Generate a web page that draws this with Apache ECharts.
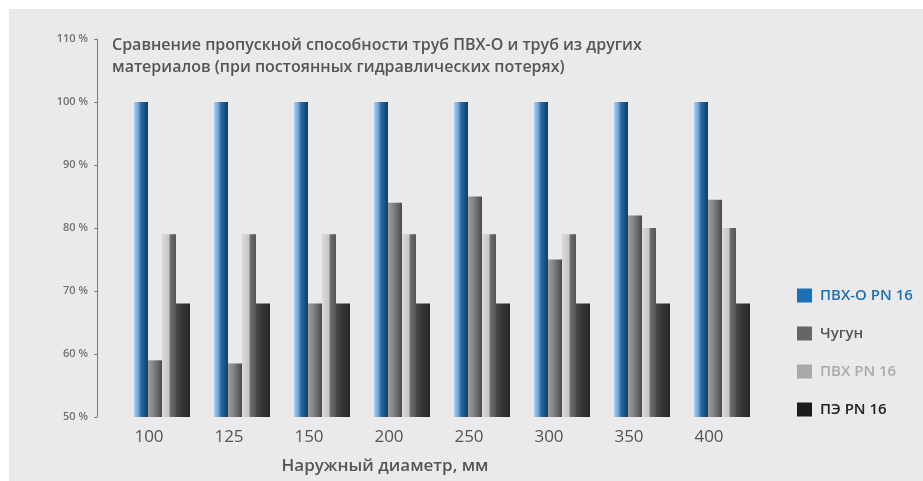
<!DOCTYPE html>
<html>
<head>
<meta charset="utf-8">
<script src="https://cdn.jsdelivr.net/npm/echarts@6/dist/echarts.min.js"></script>
<style>
html,body{margin:0;padding:0;background:#ffffff;}
#chart{width:923px;height:481px;}
</style>
</head>
<body>
<div id="chart"></div>
<script>
var categories = ['100', '125', '150', '200', '250', '300', '350', '400'];
var seriesNames = ['ПВХ-О PN 16', 'Чугун', 'ПВХ PN 16', 'ПЭ PN 16'];
var pvcO = [100, 100, 100, 100, 100, 100, 100, 100];
var castIron = [59, 58.5, 68, 84, 85, 75, 82, 84.5];
var pvc = [79, 79, 79, 79, 79, 79, 80, 80];
var pe = [68, 68, 68, 68, 68, 68, 68, 68];
var yTicks = [50, 60, 70, 80, 90, 100, 110];

var titleText = 'Сравнение пропускной способности труб ПВХ-О и труб из других\nматериалов (при постоянных гидравлических потерях)';
var xAxisName = 'Наружный диаметр, мм';

function grad(stops) {
  return {type: 'linear', x: 0, y: 0, x2: 1, y2: 0,
    colorStops: stops.map(function (s) { return {offset: s[0], color: s[1]}; })};
}
var barColors = [
  grad([[0, '#a9d0f0'], [0.3, '#6ea8dc'], [0.5, '#2a6a9e'], [1, '#123d60']]),
  grad([[0, '#a0a0a0'], [0.5, '#7a7a7a'], [1, '#4a4a4a']]),
  grad([[0, '#dcdcdc'], [0.5, '#c4c4c4'], [0.6, '#6e6e6e'], [1, '#555555']]),
  grad([[0, '#4a4a4a'], [0.5, '#333333'], [1, '#262626']])
];
var legendColors = ['#1f6fb4', '#666666', '#a8a8a8', '#1c1c1c'];
var legendTextColors = ['#2070b4', '#555555', '#aaaaaa', '#222222'];
var seriesData = [pvcO, castIron, pvc, pe];

var chart = echarts.init(document.getElementById('chart'), null, {renderer: 'canvas'});
var option = {
  backgroundColor: '#ffffff',
  animation: false,
  graphic: [{
    type: 'rect', left: 9, top: 9, z: -10,
    shape: {width: 1000, height: 1000},
    style: {fill: '#eaeaec'}
  }],
  title: {
    text: titleText,
    left: 112, top: 34,
    padding: 0,
    textStyle: {fontFamily: 'Open Sans', fontSize: 16, fontWeight: 600, color: '#555555', lineHeight: 22}
  },
  legend: {
    orient: 'vertical',
    left: 797, top: 288,
    padding: 0,
    itemWidth: 15, itemHeight: 14, itemGap: 23,
    icon: 'rect',
    textStyle: {fontFamily: 'Open Sans', fontSize: 15, fontWeight: 600, padding: [0, 0, 0, 3]},
    data: seriesNames.map(function (n, i) {
      return {name: n, itemStyle: {color: legendColors[i]}, textStyle: {color: legendTextColors[i]}};
    })
  },
  grid: {left: 122, right: 161, top: 39, bottom: 64, containLabel: false},
  xAxis: {
    type: 'category',
    data: categories,
    axisLine: {show: false},
    axisTick: {show: false},
    axisLabel: {fontFamily: 'Open Sans', fontSize: 17, color: '#555555', margin: 12, padding: [0, 26, 0, 0]},
    name: xAxisName,
    nameLocation: 'middle',
    nameGap: 41,
    nameTextStyle: {fontFamily: 'Open Sans', fontSize: 17, fontWeight: 600, color: '#555555', padding: [0, 114, 0, 0]}
  },
  yAxis: {
    type: 'value',
    min: yTicks[0], max: yTicks[yTicks.length - 1], interval: 10,
    offset: 25,
    axisLine: {show: true, lineStyle: {color: '#7a7a7a', width: 1}},
    axisTick: {show: true, length: 3, lineStyle: {color: '#7a7a7a'}},
    splitLine: {show: false},
    axisLabel: {fontFamily: 'Open Sans', fontSize: 11, fontWeight: 600, color: '#707070', margin: 9,
      formatter: function (v) { return v + ' %'; }}
  },
  series: seriesNames.map(function (n, i) {
    return {
      name: n, type: 'bar',
      data: seriesData[i],
      barWidth: 14, barGap: '0%',
      itemStyle: {color: barColors[i]}
    };
  })
};
chart.setOption(option);
</script>
</body>
</html>
